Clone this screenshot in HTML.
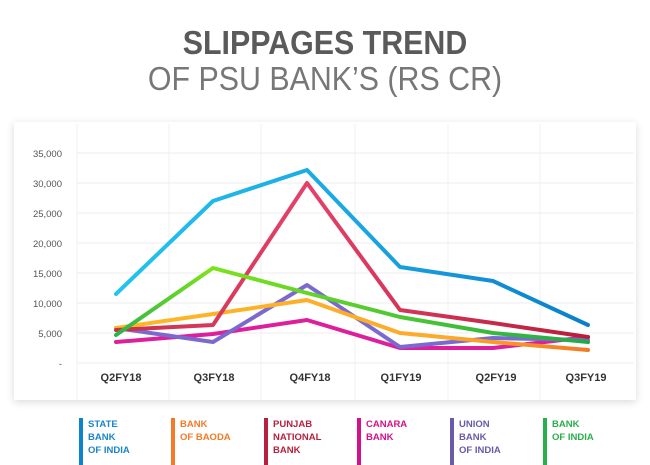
<!DOCTYPE html>
<html><head><style>
body{margin:0;width:650px;height:465px;background:#fff;overflow:hidden;font-family:"Liberation Sans",sans-serif;position:relative}
.t1{position:absolute;top:24px;width:650px;text-align:center;font-size:33px;font-weight:bold;color:#5a5a5a;letter-spacing:0px;transform:scaleX(0.92)}
.t2{position:absolute;top:60px;width:650px;text-align:center;font-size:33px;color:#777;transform:scaleX(0.92);font-weight:300}
.card{position:absolute;left:14px;top:122px;width:622px;height:278px;background:#fff;box-shadow:0 2px 8px rgba(0,0,0,0.15)}
.lg{position:absolute;top:418px;height:47px;border-left:4px solid;padding-left:5px;font-size:9.5px;font-weight:bold;line-height:13px}
</style></head><body>
<div class="t1">SLIPPAGES TREND</div>
<div class="t2">OF PSU BANK’S (RS CR)</div>
<div class="card"></div>
<svg width="650" height="465" style="position:absolute;left:0;top:0">
<defs>
<linearGradient id="gs" gradientUnits="userSpaceOnUse" x1="116" x2="588"><stop offset="0" stop-color="#22c4f0"/><stop offset="0.5" stop-color="#1aa6e2"/><stop offset="1" stop-color="#0a7fcc"/></linearGradient>
<linearGradient id="gp" gradientUnits="userSpaceOnUse" x1="116" x2="588"><stop offset="0" stop-color="#c8304a"/><stop offset="0.4" stop-color="#e5416a"/><stop offset="1" stop-color="#b81d3a"/></linearGradient>
<linearGradient id="gg" gradientUnits="userSpaceOnUse" x1="116" x2="588"><stop offset="0" stop-color="#2cb34a"/><stop offset="0.2" stop-color="#7ee31c"/><stop offset="1" stop-color="#1faa4a"/></linearGradient>
<linearGradient id="go" gradientUnits="userSpaceOnUse" x1="116" x2="588"><stop offset="0" stop-color="#fdb827"/><stop offset="0.7" stop-color="#fcaa2a"/><stop offset="1" stop-color="#f27a26"/></linearGradient>
</defs>
<g stroke="#f2f2f2" stroke-width="1">
<line x1="77" x2="77" y1="124" y2="400"/><line x1="169" x2="169" y1="124" y2="400"/><line x1="261" x2="261" y1="124" y2="400"/><line x1="355" x2="355" y1="124" y2="400"/><line x1="448" x2="448" y1="124" y2="400"/><line x1="540" x2="540" y1="124" y2="400"/>
</g>
<g stroke="#ececec" stroke-width="1">
<line x1="77" x2="634" y1="153" y2="153"/><line x1="77" x2="634" y1="183" y2="183"/><line x1="77" x2="634" y1="213" y2="213"/><line x1="77" x2="634" y1="243" y2="243"/><line x1="77" x2="634" y1="273" y2="273"/><line x1="77" x2="634" y1="303" y2="303"/><line x1="77" x2="634" y1="333" y2="333"/><line x1="77" x2="634" y1="363" y2="363"/>
</g>
<g font-size="9.5" fill="#555" text-anchor="end">
<text x="62" y="157">35,000</text><text x="62" y="187">30,000</text><text x="62" y="217">25,000</text><text x="62" y="247">20,000</text><text x="62" y="277">15,000</text><text x="62" y="307">10,000</text><text x="62" y="337">5,000</text><text x="62" y="367">-</text>
</g>
<g font-size="11" font-weight="bold" fill="#333" text-anchor="middle">
<text x="121" y="381">Q2FY18</text><text x="214" y="381">Q3FY18</text><text x="310" y="381">Q4FY18</text><text x="401" y="381">Q1FY19</text><text x="496" y="381">Q2FY19</text><text x="586" y="381">Q3FY19</text>
</g>
<g fill="none" stroke-width="4" stroke-linejoin="round" stroke-linecap="round">
<polyline stroke="#de1f9b" points="116,342 213,334 307,320 400,348 493,348 588,337"/>
<polyline stroke="#7a6ad0" points="116,328 213,342 307,285 400,347 493,338 588,340"/>
<polyline stroke="url(#go)" points="116,328 213,314 307,300 400,333 493,342 588,350"/>
<polyline stroke="url(#gp)" points="116,330 213,325 307,183 400,310 493,323 588,337"/>
<polyline stroke="url(#gg)" points="116,335 213,268 307,293 400,317 493,333 588,342"/>
<polyline stroke="url(#gs)" points="116,294 213,201 307,170 400,267 493,281 588,325"/>
</g>
</svg>
<div class="lg" style="left:79px;border-color:#0a84cc;color:#1a86c8">STATE<br>BANK<br>OF INDIA</div>
<div class="lg" style="left:171px;border-color:#f57a26;color:#f57a26">BANK<br>OF BAODA</div>
<div class="lg" style="left:264px;border-color:#b8203f;color:#b8203f">PUNJAB<br>NATIONAL<br>BANK</div>
<div class="lg" style="left:357px;border-color:#d4118a;color:#d4118a">CANARA<br>BANK</div>
<div class="lg" style="left:450px;border-color:#6a5aa8;color:#6a5aa8">UNION<br>BANK<br>OF INDIA</div>
<div class="lg" style="left:543px;border-color:#28b04a;color:#28b04a">BANK<br>OF INDIA</div>
</body></html>
